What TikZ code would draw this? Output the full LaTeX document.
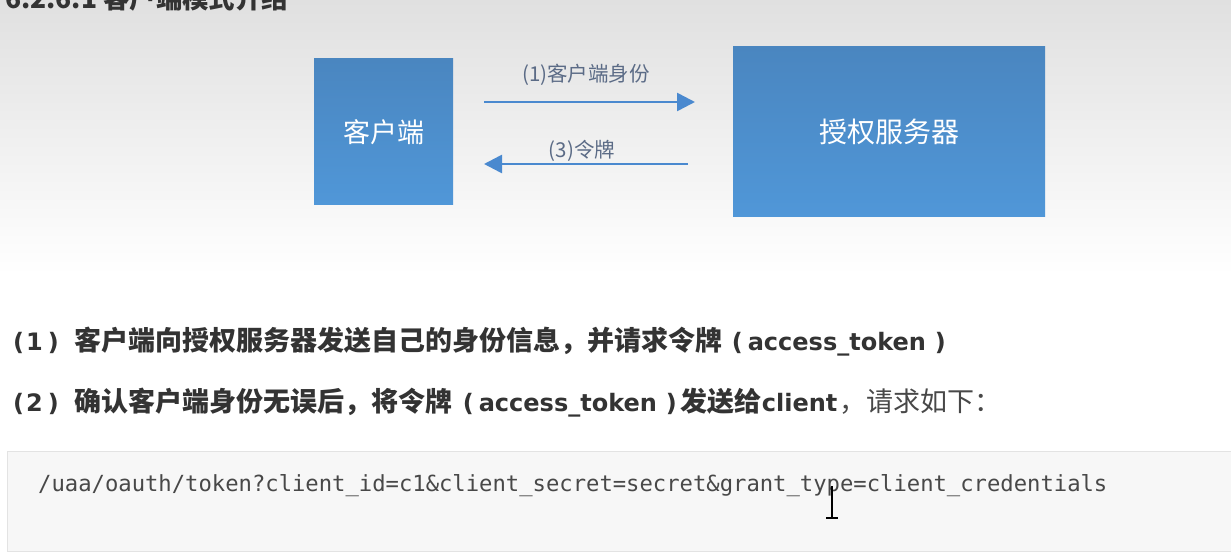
\documentclass[tikz,border=0pt]{standalone}
\usepackage{fontspec}
\setmainfont{DejaVu Sans}
\newfontfamily\cjk{Noto Sans CJK SC}
\setmonofont{DejaVu Sans Mono}
\usetikzlibrary{arrows.meta}
\definecolor{boxtop}{HTML}{4A86C0}
\definecolor{boxbot}{HTML}{5097D8}
\definecolor{arrowc}{HTML}{4A89CF}
\definecolor{lblc}{HTML}{5B6B86}
\definecolor{txtc}{HTML}{333333}
\definecolor{txtl}{HTML}{484848}
\definecolor{codebg}{HTML}{F7F7F7}
\definecolor{codebd}{HTML}{E3E3E3}
\definecolor{bgtop}{HTML}{E0E0E0}
\newcommand{\cj}[1]{{\cjk\fontsize{27}{30}\selectfont #1}}
\tikzset{
  bluebox/.style={draw=none, top color=boxtop, bottom color=boxbot, text=white, inner sep=0pt},
  flow/.style={draw=arrowc, line width=2.6pt, -{Triangle[length=18pt,width=18pt]}},
  flowlbl/.style={text=lblc, font=\cjk\fontsize{20.5}{24}\selectfont, inner sep=0pt},
  bodytxt/.style={text=txtc, anchor=base west, inner sep=0pt, font=\bfseries\fontsize{24}{28}\selectfont},
}
\begin{document}
\begin{tikzpicture}[x=1pt,y=-1pt]
\useasboundingbox (0,0) rectangle (1231,556);
\clip (0,0) rectangle (1231,556);
% background
\fill[white] (0,0) rectangle (1231,556);
\shade[top color=bgtop, bottom color=white] (0,0) rectangle (1231,275);
% heading (cut off at the top edge, as in the reference)
\node[text=txtc, anchor=base west, inner sep=0pt, font=\cjk\bfseries\fontsize{26.4}{30}\selectfont] (head) at (5,9) {6.2.6.1 客户端模式介绍};
% boxes
\node[bluebox, minimum width=139pt, minimum height=146pt, font=\cjk\fontsize{27}{30}\selectfont] (client) at (383.5,132) {客户端};
\node[bluebox, minimum width=312pt, minimum height=170pt, font=\cjk\fontsize{28}{32}\selectfont] (server) at (889,132) {授权服务器};
% arrows
\coordinate (a1s) at (484,102);
\coordinate (a1e) at (695,102);
\coordinate (a2s) at (688,164);
\coordinate (a2e) at (484,164);
\draw[flow] (a1s) -- (a1e);
\draw[flow] (a2s) -- (a2e);
\node[flowlbl] (l1) at (586,75) {(1)客户端身份};
\node[flowlbl] (l3) at (582,151) {(3)令牌};
% body text
\node[bodytxt] (t1) at (13,350) {(\hspace{2pt}1\hspace{5pt})\hspace{16pt}\cj{\bfseries 客户端向授权服务器发送自己的身份信息，并请求令牌}\hspace{9pt}(\hspace{5pt}access\_token\hspace{9pt})};
\node[bodytxt] (t2) at (13,411) {(\hspace{2pt}2\hspace{5pt})\hspace{16pt}\cj{\bfseries 确认客户端身份无误后，将令牌}\hspace{10pt}(\hspace{5pt}access\_token\hspace{9pt})\hspace{4pt}\cj{\bfseries 发送给}client\hspace{2pt}\cj{\mdseries\color{txtl}，请求如下：}};
% code box
\draw[fill=codebg, draw=codebd, line width=1pt] (7,451) rectangle (1240,551);
\node[anchor=base west, inner sep=0pt, text=txtl, font=\ttfamily\fontsize{22.2}{26}\selectfont] (code) at (38,491) {/uaa/oauth/token?client\_id=c1\&client\_secret=secret\&grant\_type=client\_credentials};
% text cursor
\draw[black, line width=1.6pt] (832,486) -- (832,518);
\draw[black, line width=1.4pt] (826,518) -- (838,518);
\end{tikzpicture}
\end{document}
